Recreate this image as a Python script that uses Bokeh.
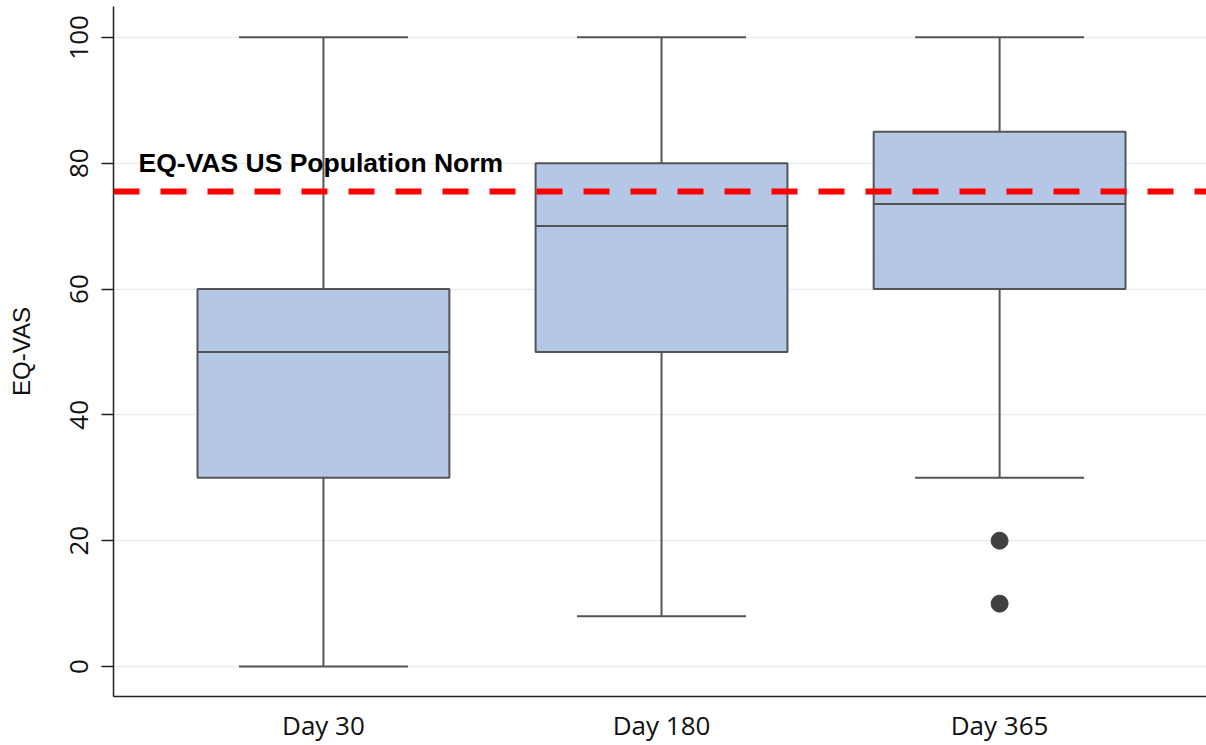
from bokeh.plotting import figure
from bokeh.models import ColumnDataSource, FixedTicker, Span, Label
from bokeh.embed import file_html
from bokeh.resources import INLINE

# ---- data ----
categories = ["Day 30", "Day 180", "Day 365"]
lower = [0, 8, 30]
q1 = [30, 50, 60]
median = [50, 70, 73.5]
q3 = [60, 80, 85]
upper = [100, 100, 100]
outlier_cat = ["Day 365", "Day 365"]
outlier_val = [20, 10]
norm_value = 75.5
norm_label = "EQ-VAS US Population Norm"
y_ticks = [0, 20, 40, 60, 80, 100]

xpos = [i + 1 for i in range(len(categories))]
box_w = 0.745
cap_w = 0.5

src = ColumnDataSource(dict(
    x=xpos, lower=lower, q1=q1, med=median, q3=q3, upper=upper,
    left=[x - box_w / 2 for x in xpos], right=[x + box_w / 2 for x in xpos],
    cl=[x - cap_w / 2 for x in xpos], cr=[x + cap_w / 2 for x in xpos],
))
out_src = ColumnDataSource(dict(
    x=[xpos[categories.index(c)] for c in outlier_cat], y=outlier_val))

p = figure(width=1206, height=745, output_backend="svg", toolbar_location=None,
           x_range=(0.379, 3.612), y_range=(-4.76, 104.9),
           min_border_left=113, min_border_right=0, min_border_top=6,
           min_border_bottom=48)
p.outline_line_color = None
p.background_fill_color = "white"

# grid
p.xgrid.visible = False
p.ygrid.grid_line_color = "#e6eff1"
p.ygrid.grid_line_width = 1.5

# axes
p.yaxis.ticker = FixedTicker(ticks=y_ticks)
p.xaxis.ticker = FixedTicker(ticks=xpos)
p.xaxis.major_label_overrides = {x: c for x, c in zip(xpos, categories)}
for ax in (p.xaxis[0], p.yaxis[0]):
    ax.axis_line_color = "#222222"
    ax.axis_line_width = 1.5
    ax.major_tick_line_color = "#222222"
    ax.major_tick_line_width = 1.5
    ax.minor_tick_line_color = None
    ax.major_label_text_font = "Open Sans"
    ax.major_label_text_font_size = "26px"
    ax.major_label_text_color = "#111111"
    ax.axis_label_text_font = "Liberation Sans"
    ax.axis_label_text_font_style = "normal"
    ax.axis_label_text_color = "#111111"
p.xaxis.major_tick_out = 0
p.xaxis.major_tick_in = 0
p.xaxis.major_label_standoff = 10
p.yaxis.major_tick_out = 12
p.yaxis.major_tick_in = 0
p.yaxis.major_label_orientation = "vertical"
p.yaxis.major_label_standoff = 13
p.yaxis.axis_label = "EQ-VAS"
p.yaxis.axis_label_text_font_size = "24px"
p.yaxis.axis_label_standoff = 33

line_col = "#555555"
# whiskers
p.segment(x0="x", y0="q3", x1="x", y1="upper", source=src, line_color=line_col, line_width=2)
p.segment(x0="x", y0="lower", x1="x", y1="q1", source=src, line_color=line_col, line_width=2)
p.segment(x0="cl", y0="upper", x1="cr", y1="upper", source=src, line_color=line_col, line_width=2)
p.segment(x0="cl", y0="lower", x1="cr", y1="lower", source=src, line_color=line_col, line_width=2)
# boxes
p.quad(left="left", right="right", bottom="q1", top="q3", source=src,
       fill_color="#b4c7e7", line_color=line_col, line_width=2)
p.segment(x0="left", y0="med", x1="right", y1="med", source=src, line_color=line_col, line_width=2)
# outliers
p.scatter(x="x", y="y", source=out_src, size=17, fill_color="#404040", line_color="#404040")

# norm line
p.add_layout(Span(location=norm_value, dimension="width", line_color="#ff0000",
                  line_width=6, line_dash="26 21"))
p.add_layout(Label(x=0.453, y=80.0, text=norm_label, text_font="Liberation Sans",
                   text_font_style="bold", text_font_size="26.5px", text_color="#000000",
                   text_baseline="alphabetic"))

open("out.html", "w").write(file_html(p, INLINE))
